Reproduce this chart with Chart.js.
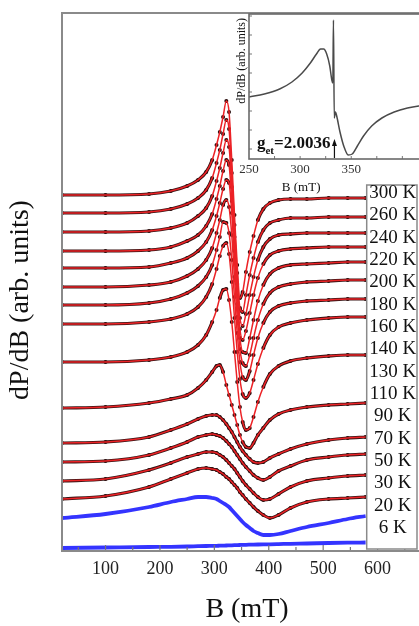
<!DOCTYPE html>
<html>
<head>
<meta charset="utf-8">
<script src="https://cdn.jsdelivr.net/npm/chart.js@4.4.1/dist/chart.umd.min.js"></script>
<style>
  html, body { margin: 0; padding: 0; background: #fff; overflow: hidden; width: 419px; height: 626px; }
  #wrap { position: relative; width: 445px; height: 626px; }
  #main { position: absolute; left: 0; top: 0; }
  #inset { position: absolute; left: 226px; top: 0; }
</style>
</head>
<body>
<div id="wrap">
  <canvas id="main" width="445" height="626"></canvas>
  <canvas id="inset" width="219" height="200"></canvas>
</div>
<script>
// magnetic field (mT) where each spectrum is sampled
const field = [20, 100, 180, 220, 250, 270, 285, 296, 304, 310, 316, 322, 327, 332, 337, 342, 347, 352, 358, 365, 372, 380, 390, 402, 418, 440, 470, 510, 545, 578];

const temps = ["300 K", "260 K", "240 K", "220 K", "200 K", "180 K", "160 K", "140 K", "130 K", "110 K", "90 K", "70 K", "50 K", "30 K", "20 K", "6 K"];
const blueTemps = ["20 K", "6 K"];

// vertical offset of each spectrum in the stack (arb. units)
const offsets = [356, 338, 319, 300, 283, 264, 246, 227, 189, 143, 108, 89, 70, 52, 33, 3];

// dP/dB of each spectrum relative to its own baseline (arb. units)
const s300 = [0, 0, 1, 4, 9, 15, 23, 35, 50, 63, 78, 94, 83, 35, -20, -70, -103, -97, -77, -57, -41, -25, -14, -8, -5, -4, -4, -3, -3, -3];
const s260 = [0, 0, 1, 4, 9, 15, 23, 35, 50, 63, 79, 93, 84, 40, -12, -60, -95, -99, -82, -62, -45, -29, -17, -10, -7, -5, -5, -4, -4, -4];
const s240 = [0, 0, 1, 4, 9, 16, 24, 36, 51, 64, 79, 92, 85, 45, -5, -52, -86, -94, -82, -63, -45, -28, -15, -7, -3, -2, -1, -1, -1, -1];
const s220 = [0, 0, 1, 4, 10, 16, 25, 37, 52, 65, 80, 91, 86, 50, 0, -45, -78, -89, -80, -62, -44, -27, -13, -4, 0, 2, 3, 4, 4, 4];
const s200 = [0, 0, 1, 5, 10, 17, 26, 38, 52, 65, 79, 88, 85, 55, 8, -36, -70, -84, -85, -70, -52, -33, -17, -6, 0, 3, 4, 5, 6, 6];
const s180 = [0, 0, 2, 5, 11, 18, 27, 39, 54, 67, 82, 87, 80, 52, 10, -30, -62, -76, -79, -68, -51, -33, -17, -6, 0, 3, 5, 6, 7, 7];
const s160 = [0, 0, 2, 6, 12, 19, 28, 40, 55, 68, 83, 82, 72, 45, 8, -28, -57, -72, -75, -66, -50, -33, -18, -7, -1, 2, 4, 5, 6, 6];
const s140 = [0, 0, 2, 5, 10, 17, 27, 40, 55, 68, 78, 81, 70, 42, 6, -28, -55, -70, -74, -69, -56, -40, -24, -11, -3, 1, 4, 6, 7, 7];
const s130 = [0, 0, 2, 5, 10, 17, 27, 40, 52, 64, 72, 73, 62, 40, 10, -20, -45, -60, -68, -66, -55, -40, -25, -12, -4, 1, 4, 6, 7, 7];
const s110 = [0, 1, 5, 9, 13, 20, 28, 36, 42, 43, 36, 23, 13, 3, -7, -17, -27, -34, -39, -40, -35, -27, -20, -12, -6, -2, 1, 3, 4, 5];
const s90 = [0, 1, 6, 13, 19, 24, 27, 28, 28, 26, 23, 19, 15, 11, 6, 1, -4, -8, -12, -16, -19, -20, -19, -15, -11, -6, -1, 3, 5, 6];
const s70 = [0, 1, 7, 14, 20, 25, 27, 28, 27, 26, 24, 21, 18, 15, 11, 7, 3, -1, -5, -9, -13, -16, -18, -15, -9, -4, 2, 5, 7, 8];
const s50 = [0, 2, 11, 18, 24, 27, 29, 29, 28, 26, 24, 21, 18, 15, 12, 8, 4, 0, -4, -8, -12, -16, -19, -18, -13, -6, 0, 3, 5, 6];
const s30 = [0, 3, 12, 20, 26, 30, 31, 30, 29, 27, 25, 22, 20, 17, 14, 11, 7, 4, 0, -4, -8, -12, -16, -19, -16, -9, -3, 0, 1, 2];
const s20 = [0, 4, 11, 16, 19, 21, 21, 20, 19, 17, 15, 13, 11, 8, 5, 2, -1, -4, -7, -10, -13, -15, -17, -17, -16, -13, -9, -5, -1, 2];
const s6 = [0, 0.5, 1, 1.2, 1.5, 1.8, 2, 2.1, 2.2, 2.3, 2.4, 2.5, 2.6, 2.7, 2.8, 2.9, 3, 3.1, 3.2, 3.3, 3.4, 3.5, 3.6, 3.7, 3.9, 4.2, 4.5, 5, 5.3, 5.5];

const shapes = [s300, s260, s240, s220, s200, s180, s160, s140, s130, s110, s90, s70, s50, s30, s20, s6];

// inset: room temperature spectrum
const insetField = [250, 265, 280, 292, 302, 310, 316, 320, 323, 326, 329, 331, 332, 332.6, 333.4, 334.5, 336, 339, 343, 347, 351, 356, 362, 370, 380, 392, 405, 416, 429];
const insetSignal = [62, 65, 70, 77, 86, 96, 105, 110, 110, 105, 93, 79, 76, 139, 41, 47, 42, 27, 12, 4, 5, 13, 23, 33, 41, 47, 51, 53, 54];

const serif = '"Liberation Serif", "DejaVu Serif", serif';

// hide the thick data line where the sweep is steep, so only dots + fit show
const steepHide = c => Math.abs(c.p1.y - c.p0.y) > 2.5 * Math.abs(c.p1.x - c.p0.x) ? 'rgba(0,0,0,0)' : undefined;

const datasets = [];
shapes.forEach((s, i) => {
  const pts = field.map((b, j) => ({ x: b, y: offsets[i] + s[j] }));
  if (blueTemps.includes(temps[i])) {
    datasets.push({
      label: temps[i], data: pts, borderColor: "#3434ff", borderWidth: 3.8,
      pointRadius: 0, cubicInterpolationMode: "monotone", order: 2
    });
  } else {
    datasets.push({
      label: temps[i] + " fit", data: pts, borderColor: "#ec2226", borderWidth: 1.5,
      pointRadius: 0, cubicInterpolationMode: "monotone", order: 0
    });
    datasets.push({
      label: temps[i], data: pts, borderColor: "#361313", borderWidth: 3.2,
      pointRadius: 2, pointBackgroundColor: "#2a0c0c", pointBorderWidth: 0,
      cubicInterpolationMode: "monotone", order: 1, segment: { borderColor: steepHide }
    });
  }
});

const mainDeco = {
  id: "mainDeco",
  afterDraw(chart) {
    const { ctx, chartArea: a, scales: { x } } = chart;
    ctx.save();
    // inward ticks on the field axis
    ctx.strokeStyle = "#777";
    ctx.lineWidth = 1.2;
    for (let b = 50; b <= 650; b += 50) {
      const px = x.getPixelForValue(b);
      const len = b % 100 === 0 ? 6 : 4;
      ctx.beginPath();
      ctx.moveTo(px, a.bottom);
      ctx.lineTo(px, a.bottom - len);
      ctx.stroke();
    }
    // frame
    ctx.strokeStyle = "#8a8a8a";
    ctx.lineWidth = 2;
    ctx.strokeRect(a.left, a.top, a.right - a.left, a.bottom - a.top);
    // temperature labels box
    const bl = x.getPixelForValue(580), br = 417, bt = 185, bb = 549;
    ctx.fillStyle = "#fff";
    ctx.fillRect(bl, bt, br - bl, bb - bt);
    ctx.lineWidth = 1.5;
    ctx.strokeStyle = "#8a8a8a";
    ctx.strokeRect(bl, bt, br - bl, bb - bt);
    ctx.fillStyle = "#111";
    ctx.font = "19px " + serif;
    ctx.textAlign = "center";
    ctx.textBaseline = "middle";
    temps.forEach((t, i) => ctx.fillText(t, (bl + br) / 2 + 1, 193 + i * 22.33));
    // y title
    ctx.translate(21, 300);
    ctx.rotate(-Math.PI / 2);
    ctx.font = "28px " + serif;
    ctx.fillText("dP/dB (arb. units)", 0, 0);
    ctx.restore();
  }
};

new Chart(document.getElementById("main").getContext("2d"), {
  type: "line",
  data: { datasets },
  options: {
    responsive: false,
    animation: false,
    layout: { padding: { left: 62, top: 13, right: 13, bottom: 0 } },
    plugins: { legend: { display: false }, tooltip: { enabled: false } },
    scales: {
      x: {
        type: "linear", min: 20, max: 700,
        grid: { display: false, drawTicks: false },
        border: { display: false },
        afterFit: s => { s.height = 75; },
        ticks: {
          stepSize: 100, autoSkip: false, maxRotation: 0, padding: 7,
          color: "#222", font: { family: serif, size: 18 },
          callback: v => (v % 100 === 0 && v > 0 && v <= 600) ? v : ""
        },
        title: { display: true, text: "B (mT)", color: "#111", padding: 0, font: { family: serif, size: 28 } }
      },
      y: { display: false, min: 0, max: 538 }
    }
  },
  plugins: [mainDeco]
});

const insetDeco = {
  id: "insetDeco",
  beforeDatasetsDraw(chart) {
    const { ctx, chartArea: a } = chart;
    ctx.save();
    ctx.fillStyle = "#fff";
    ctx.fillRect(a.left, a.top, a.right - a.left, a.bottom - a.top);
    ctx.restore();
  },
  afterDraw(chart) {
    const { ctx, chartArea: a, scales: { x, y } } = chart;
    ctx.save();
    ctx.strokeStyle = "#777";
    ctx.lineWidth = 1;
    for (let b = 275; b <= 425; b += 25) {
      const px = x.getPixelForValue(b);
      ctx.beginPath(); ctx.moveTo(px, a.bottom); ctx.lineTo(px, a.bottom - 3); ctx.stroke();
    }
    for (let v = 10; v < 145; v += 19) {
      const py = y.getPixelForValue(v);
      ctx.beginPath(); ctx.moveTo(a.left, py); ctx.lineTo(a.left + 3, py); ctx.stroke();
    }
    ctx.strokeStyle = "#6a6a6a";
    ctx.lineWidth = 1.6;
    ctx.strokeRect(a.left, a.top, a.right - a.left, a.bottom - a.top);

    // g-factor annotation with arrow
    const ax = x.getPixelForValue(332.6);
    ctx.strokeStyle = "#111";
    ctx.fillStyle = "#111";
    ctx.lineWidth = 1.2;
    ctx.beginPath(); ctx.moveTo(ax + 1, a.bottom - 1); ctx.lineTo(ax + 1, 143); ctx.stroke();
    ctx.beginPath(); ctx.moveTo(ax - 1.5, 146); ctx.lineTo(ax + 1, 139); ctx.lineTo(ax + 3.5, 146); ctx.closePath(); ctx.fill();
    ctx.textBaseline = "alphabetic";
    ctx.textAlign = "left";
    const big = "bold 17px " + serif, small = "bold 11px " + serif;
    ctx.font = big;
    const wg = ctx.measureText("g").width, wv = ctx.measureText("=2.0036").width;
    ctx.font = small;
    const ws = ctx.measureText("et").width;
    let tx = ax - 3 - wg - ws - wv;
    ctx.font = big; ctx.fillText("g", tx, 148); tx += wg;
    ctx.font = small; ctx.fillText("et", tx, 154); tx += ws;
    ctx.font = big; ctx.fillText("=2.0036", tx, 148);

    // axis titles
    ctx.textAlign = "center";
    ctx.textBaseline = "middle";
    ctx.font = "13px " + serif;
    ctx.fillText("B (mT)", x.getPixelForValue(301), 188);
    ctx.translate(16, 18);
    ctx.rotate(-Math.PI / 2);
    ctx.textAlign = "right";
    ctx.font = "12px " + serif;
    ctx.fillText("dP/dB (arb. units)", 0, 0);
    ctx.restore();
  }
};

new Chart(document.getElementById("inset").getContext("2d"), {
  type: "line",
  data: {
    datasets: [{
      label: "300 K", data: insetField.map((b, i) => ({ x: b, y: insetSignal[i] })),
      borderColor: "#4a4a4a", borderWidth: 1.5, pointRadius: 0, cubicInterpolationMode: "monotone"
    }]
  },
  options: {
    responsive: false,
    animation: false,
    layout: { padding: { left: 23, top: 14, right: 13, bottom: 0 } },
    plugins: { legend: { display: false }, tooltip: { enabled: false } },
    scales: {
      x: {
        type: "linear", min: 250, max: 429,
        grid: { display: false, drawTicks: false },
        border: { display: false },
        afterFit: s => { s.height = 41; },
        ticks: {
          stepSize: 50, autoSkip: false, maxRotation: 0, padding: 3,
          color: "#333", font: { family: serif, size: 13 },
          callback: v => (v % 50 === 0 && v <= 400) ? v : ""
        }
      },
      y: { display: false, min: 0, max: 145 }
    }
  },
  plugins: [insetDeco]
});
</script>
</body>
</html>
